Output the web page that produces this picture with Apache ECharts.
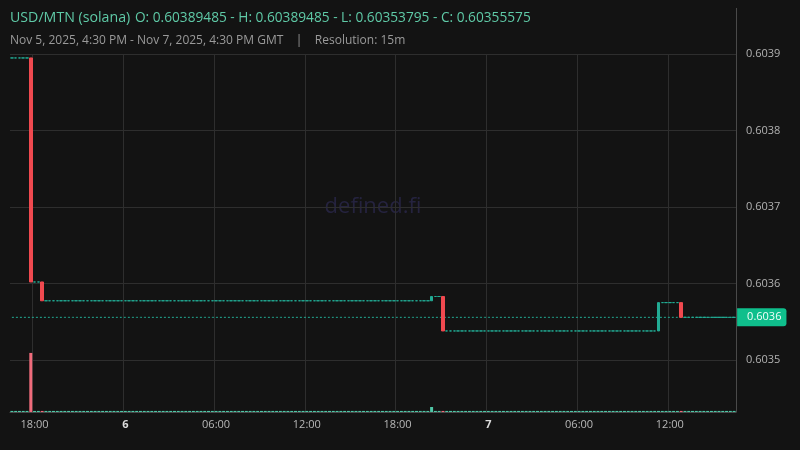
<!DOCTYPE html>
<html>
<head>
<meta charset="utf-8">
<script src="https://cdn.jsdelivr.net/npm/echarts@6/dist/echarts.min.js"></script>
<style>
  html, body { margin: 0; padding: 0; background: #131313; }
  #main { width: 800px; height: 450px; }
</style>
</head>
<body>
<div id="main"></div>
<script>
// 15m candles, Nov 5 2025 16:30 -> Nov 7 2025 16:30 GMT
const startTime = Date.UTC(2025, 10, 5, 16, 30);
const candleCount = 192;
const firstPrice = 0.60389485;

// candles where the price moved (all others are flat at the previous close)
const moveIndex = [5, 8, 111, 114, 171, 177];
const moveClose = [0.6036020, 0.6035774, 0.6035830, 0.60353795, 0.6035750, 0.60355575];

// volume: small trades everywhere, two visible spikes
const baseVolume = 0.3;
const spikeIndex = [5, 111];
const spikeVolume = [16.5, 1.4];

const yMin = 0.603432;
const yMax = 0.6039;

const upColor = "#22ab94";
const downColor = "#f0494f";
const bgColor = "#131313";

const categories = [];
const candles = [];
const volumes = [];
let last = firstPrice;
for (let i = 0; i < candleCount; i++) {
  const d = new Date(startTime + i * 15 * 60 * 1000);
  const hh = String(d.getUTCHours()).padStart(2, "0");
  const mm = String(d.getUTCMinutes()).padStart(2, "0");
  categories.push(hh === "00" && mm === "00" ? "D" + d.getUTCDate() : hh + ":" + mm);

  const m = moveIndex.indexOf(i);
  const open = last;
  const close = m >= 0 ? moveClose[m] : last;
  candles.push([open, close, Math.min(open, close), Math.max(open, close)]);
  last = close;

  const s = spikeIndex.indexOf(i);
  volumes.push({
    value: s >= 0 ? spikeVolume[s] : baseVolume,
    itemStyle: {color: close < open ? "#f06b7b" : "#4fc6a6"},
  });
}
const lastClose = last;
// flat line of the last price across the chart
const priceLine = categories.map(() => lastClose);

// labels every 6 hours starting at 18:00
const showTick = (idx) => idx % 24 === 6;

const chart = echarts.init(document.getElementById("main"));
const option = {
  backgroundColor: bgColor,
  animation: false,
  textStyle: {fontFamily: "Open Sans"},
  title: {
    left: 10,
    top: 9,
    padding: 0,
    itemGap: 6,
    text: "{t|USD/MTN (solana)} {o|O: 0.60389485 - H: 0.60389485 - L: 0.60353795 - C: 0.60355575}",
    textStyle: {
      fontWeight: "normal",
      rich: {
        t: {fontFamily: "Open Sans", fontSize: 14.2, fontWeight: "normal", color: "#5fcaa7", lineHeight: 18},
        o: {fontFamily: "Open Sans", fontSize: 13.7, fontWeight: "normal", color: "#5fcaa7", lineHeight: 18},
      },
    },
    subtext: "Nov 5, 2025, 4:30 PM - Nov 7, 2025, 4:30 PM GMT    |    Resolution: 15m",
    subtextStyle: {fontFamily: "Open Sans", fontSize: 12, color: "#9a9a9a", lineHeight: 16},
  },
  graphic: [
    {
      type: "text",
      x: 373,
      y: 207,
      z: 0,
      style: {
        text: "defined.fi",
        fill: "#25233f",
        font: '22px "Open Sans"',
        align: "center",
        verticalAlign: "middle",
      },
    },
    {
      type: "line",
      shape: {x1: 736.5, y1: 8, x2: 736.5, y2: 54},
      style: {stroke: "#4a4a4a", lineWidth: 1},
    },
  ],
  grid: {left: 10, right: 64, top: 54, bottom: 38},
  xAxis: {
    type: "category",
    data: categories,
    boundaryGap: true,
    axisLine: {show: true, lineStyle: {color: "#4a4a4a"}},
    axisTick: {show: false, interval: showTick},
    axisLabel: {
      interval: showTick,
      margin: 7,
      fontSize: 11,
      color: "#b8b8b8",
      fontFamily: "Open Sans",
      formatter: (v) => (v.charAt(0) === "D" ? "{b|" + v.slice(1) + "}" : v),
      rich: {b: {fontWeight: "bold", fontSize: 11, color: "#dcdcdc", fontFamily: "Open Sans"}},
    },
    splitLine: {show: true, interval: showTick, lineStyle: {color: "#2e2e2e"}},
  },
  yAxis: [
    {
      type: "value",
      position: "right",
      min: yMin,
      max: yMax,
      splitNumber: 5,
      axisLine: {show: true, lineStyle: {color: "#4a4a4a"}},
      axisTick: {show: false},
      axisLabel: {
        margin: 10,
        fontSize: 11,
        color: "#b2b2b2",
        fontFamily: "Open Sans",
        showMinLabel: false,
        formatter: (v) => v.toFixed(4),
      },
      splitLine: {show: true, lineStyle: {color: "#2e2e2e"}},
    },
    {
      type: "value",
      min: 0,
      max: 100,
      show: false,
      splitLine: {show: false},
    },
  ],
  series: [
    {
      type: "bar",
      yAxisIndex: 1,
      data: volumes,
      barWidth: 3,
      z: 1,
    },
    {
      type: "line",
      data: priceLine,
      symbol: "none",
      silent: true,
      z: 2,
      lineStyle: {color: upColor, type: [2, 2], width: 1},
      endLabel: {
        show: true,
        distance: 0,
        offset: [3, 0],
        formatter: () => lastClose.toFixed(4),
        backgroundColor: "#0fbf8c",
        color: "#f2fff9",
        fontSize: 11,
        fontFamily: "Open Sans",
        padding: [3, 5, 3, 10],
        lineHeight: 12,
        borderRadius: [0, 3, 3, 0],
      },
    },
    {
      type: "candlestick",
      data: candles,
      barWidth: 3,
      z: 3,
      itemStyle: {
        color: upColor,
        color0: downColor,
        borderColor: upColor,
        borderColor0: downColor,
        borderColorDoji: upColor,
        borderWidth: 1,
      },
    },
  ],
};
chart.setOption(option);
</script>
</body>
</html>
